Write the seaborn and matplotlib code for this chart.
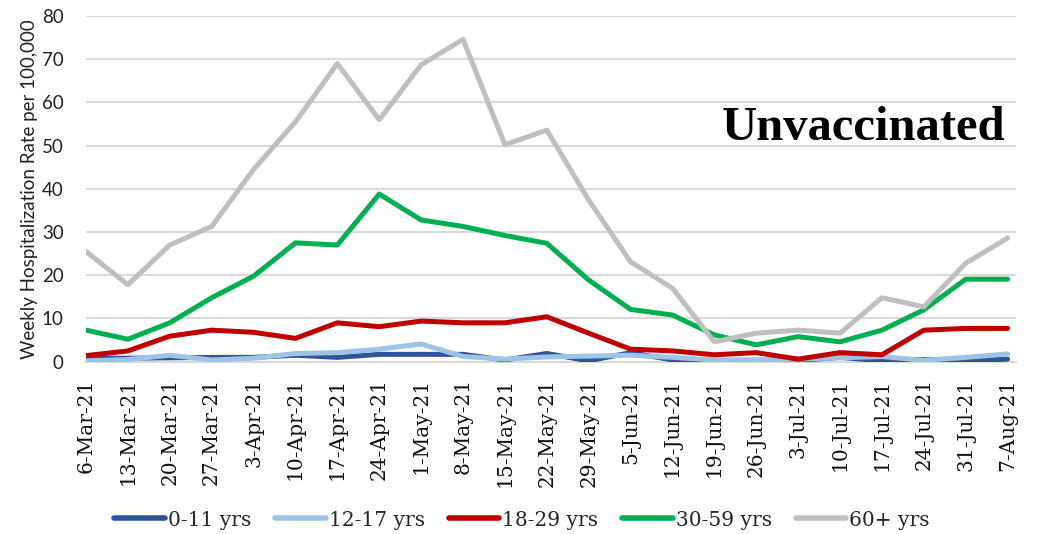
import pandas as pd
import matplotlib
matplotlib.use("Agg")
import matplotlib.pyplot as plt
import seaborn as sns

weeks = [
    "6-Mar-21", "13-Mar-21", "20-Mar-21", "27-Mar-21", "3-Apr-21", "10-Apr-21",
    "17-Apr-21", "24-Apr-21", "1-May-21", "8-May-21", "15-May-21", "22-May-21",
    "29-May-21", "5-Jun-21", "12-Jun-21", "19-Jun-21", "26-Jun-21", "3-Jul-21",
    "10-Jul-21", "17-Jul-21", "24-Jul-21", "31-Jul-21", "7-Aug-21",
]

age_0_11 = [0.8, 0.8, 0.9, 1.0, 1.0, 1.5, 1.0, 1.7, 1.7, 1.7, 0.4, 1.9,
            0.2, 2.1, 0.4, 0.3, 0.3, 0.3, 1.0, 0.2, 0.5, 0.2, 0.6]
age_12_17 = [0.2, 0.5, 1.5, 0.4, 0.8, 1.9, 2.1, 2.9, 4.1, 1.2, 0.6, 1.1,
             1.3, 1.5, 1.0, 0.4, 0.4, 0.6, 0.9, 1.2, 0.3, 1.0, 1.8]
age_18_29 = [1.4, 2.5, 5.9, 7.3, 6.8, 5.4, 9.0, 8.1, 9.4, 9.0, 9.0, 10.4,
             6.6, 2.9, 2.5, 1.6, 2.1, 0.6, 2.1, 1.6, 7.3, 7.7, 7.7]
age_30_59 = [7.3, 5.2, 9.0, 14.8, 19.8, 27.5, 27.0, 38.8, 32.8, 31.3, 29.2, 27.4,
             18.9, 12.1, 10.8, 6.2, 3.9, 5.8, 4.6, 7.3, 12.0, 19.1, 19.1]
age_60_plus = [25.5, 17.8, 27.0, 31.3, 44.5, 55.5, 69.0, 56.0, 68.7, 74.6, 50.2, 53.6,
               37.4, 23.1, 17.0, 4.6, 6.6, 7.3, 6.6, 14.8, 12.7, 22.8, 28.6]

groups = ["0-11 yrs", "12-17 yrs", "18-29 yrs", "30-59 yrs", "60+ yrs"]
colors = ["#2F5597", "#9DC3E6", "#C00000", "#00B050", "#BFBFBF"]

series = [age_0_11, age_12_17, age_18_29, age_30_59, age_60_plus]
rows = []
for g, vals in zip(groups, series):
    for i, v in enumerate(vals):
        rows.append({"idx": i, "rate": v, "group": g})
df = pd.DataFrame(rows)

sns.set_style("white")

fig = plt.figure(figsize=(10.38, 5.34), dpi=100)
ax = fig.add_axes([86 / 1038, 1 - 361.7 / 534, (1016 - 86) / 1038, (361.7 - 16) / 534])

sns.lineplot(
    data=df, x="idx", y="rate", hue="group", hue_order=groups,
    palette=colors, linewidth=3.6, sort=False, ax=ax, zorder=3
)

ax.set_xlim(0, 22.2)
ax.set_ylim(0, 80)
ax.set_yticks(range(0, 81, 10))
ax.yaxis.grid(True, color="#D9D9D9", linewidth=1.5)
ax.set_axisbelow(True)
for s in ["left", "right", "top"]:
    ax.spines[s].set_visible(False)
ax.spines["bottom"].set_color("#D9D9D9")
ax.spines["bottom"].set_linewidth(1.5)

ax.set_xticks(range(len(weeks)))
ax.set_xticklabels(weeks, rotation=90, fontfamily="DejaVu Serif", fontsize=14.5)
ax.tick_params(axis="x", length=7, width=1.2, color="#D9D9D9", pad=5, labelcolor="#111111")
ax.tick_params(axis="y", length=0, pad=16, labelsize=13.5, labelcolor="#222222")
for lab in ax.get_yticklabels():
    lab.set_fontfamily("Lato")

ax.set_xlabel("")
ax.set_ylabel("Weekly Hospitalization Rate per 100,000", fontfamily="Lato",
              fontsize=13.5, color="#222222", labelpad=3)

fig.text(1005 / 1038, 1 - 140 / 534, "Unvaccinated", ha="right", va="baseline",
         fontfamily="Liberation Serif", fontweight="bold", fontsize=35, color="black")

handles, labels = ax.get_legend_handles_labels()
ax.legend_.remove()
leg = fig.legend(
    handles, labels, loc="center", bbox_to_anchor=(522 / 1038, 1 - 520 / 534),
    ncol=5, frameon=False, handlelength=2.5, handletextpad=0.15, columnspacing=1.2,
    prop={"family": "DejaVu Serif", "size": 14.5}
)
for line in leg.get_lines():
    line.set_linewidth(4)

fig.savefig("out.png", dpi=100)
